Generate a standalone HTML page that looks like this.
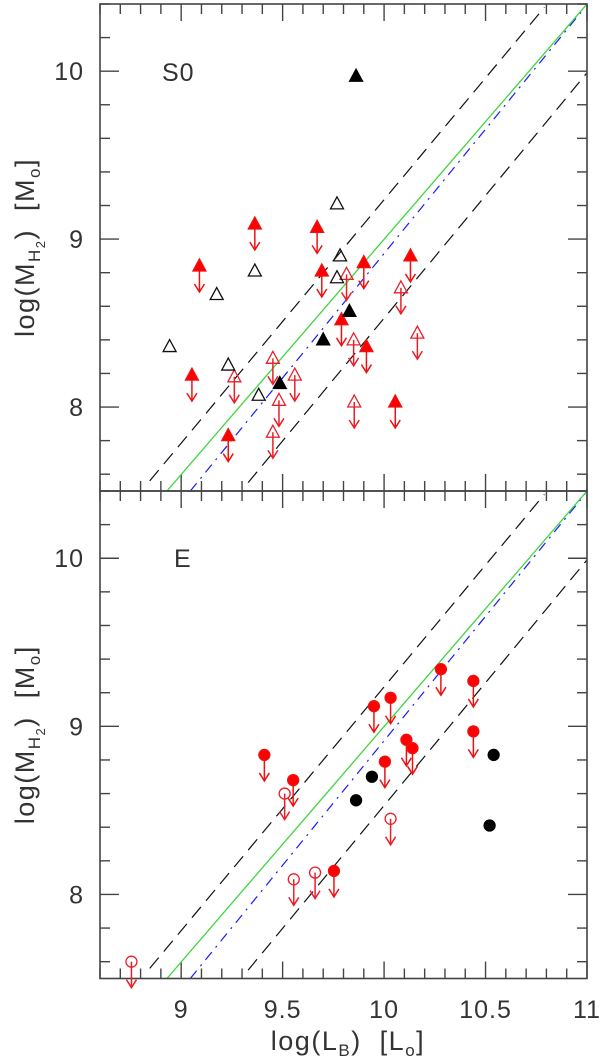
<!DOCTYPE html>
<html><head><meta charset="utf-8"><style>
html,body{margin:0;padding:0;background:#fff;}
svg{display:block;font-family:"Liberation Sans",sans-serif;}
</style></head><body>
<svg id="chart" width="600" height="1059" viewBox="0 0 600 1059" xmlns="http://www.w3.org/2000/svg"></svg>
<script>
// ---- data ----
const xTicks = [9, 9.5, 10, 10.5, 11];
const xTickLabels = ["9", "9.5", "10", "10.5", "11"];
const yTicks = [8, 9, 10];
const yTickLabels = ["8", "9", "10"];
// lines [x1,y1,x2,y2] in data coords
const greenLine = [8.93, 7.5, 11, 10.40];
const upperDashed = [8.845, 7.56, 10.79, 10.38];
const lowerDashed = [9.33, 7.55, 11, 9.99];
const blueDashDot = [9.045, 7.5, 10.99, 10.38];
// S0 panel
const s0OpenX = [8.943, 9.175, 9.363, 9.232, 9.382, 9.768, 9.783, 9.768];
const s0OpenY = [8.36, 8.67, 8.81, 8.25, 8.07, 9.21, 8.90, 8.77];
const s0FilledX = [9.862, 9.829, 9.70, 9.486];
const s0FilledY = [9.97, 8.57, 8.40, 8.14];
const s0RedFilledX = [9.09, 9.053, 9.232, 9.363, 9.67, 9.693, 9.79, 9.90, 9.913, 10.13, 10.055];
const s0RedFilledY = [8.84, 8.19, 7.83, 9.09, 9.07, 8.81, 8.52, 8.86, 8.36, 8.90, 8.03];
const s0RedOpenX = [9.452, 9.262, 9.56, 9.482, 9.452, 9.815, 9.85, 9.853, 10.083, 10.164];
const s0RedOpenY = [8.29, 8.18, 8.19, 8.04, 7.85, 8.79, 8.40, 8.03, 8.71, 8.44];
// E panel
const eRedFilledX = [9.41, 9.552, 9.95, 10.032, 10.004, 10.11, 10.14, 10.28, 10.44, 10.44, 9.753];
const eRedFilledY = [8.83, 8.68, 9.12, 9.17, 8.79, 8.92, 8.87, 9.34, 9.27, 8.97, 8.14];
const eRedOpenX = [9.51, 9.555, 9.66, 10.032, 8.755];
const eRedOpenY = [8.60, 8.09, 8.13, 8.45, 7.60];
const eBlackX = [9.862, 9.94, 10.54, 10.52];
const eBlackY = [8.56, 8.70, 8.83, 8.41];

// ---- layout ----
const NS = "http://www.w3.org/2000/svg";
const svg = document.getElementById('chart');
const L = 100, R = 587, XMIN = 8.6, XMAX = 11, YMIN = 7.5, YMAX = 10.4;
const panels = [{top: 4, bottom: 491, name: 's0'}, {top: 491, bottom: 978.5, name: 'e'}];
function sx(v){ return L + (v - XMIN) / (XMAX - XMIN) * (R - L); }
function mk(tag, attrs, parent){ const e = document.createElementNS(NS, tag); for (const k in attrs) e.setAttribute(k, attrs[k]); (parent||svg).appendChild(e); return e; }

function drawPanel(p, idx){
  const g = mk('g', {});
  
  
  const sy = v => p.bottom - (v - YMIN) / (YMAX - YMIN) * (p.bottom - p.top);
  p.sy = sy;
  const cp = mk('clipPath', {id: 'clip' + idx}, g);
  mk('rect', {x: L, y: p.top, width: R - L, height: p.bottom - p.top}, cp);
  const tk = mk('g', {stroke: '#444', 'stroke-width': 1.4}, g);
  
  
  for (let i = 86; i <= 110; i++) {
    const v = i / 10, x = sx(v), major = (i % 5 === 0), len = major ? 17 : 10;
    mk('line', {x1: x, y1: p.bottom, x2: x, y2: p.bottom - len}, tk);
    mk('line', {x1: x, y1: p.top, x2: x, y2: p.top + len}, tk);
  }
  for (let i = 38; i <= 52; i++) {
    const v = i / 5, y = sy(v), major = (i % 5 === 0), len = major ? 19 : 10;
    mk('line', {x1: L, y1: y, x2: L + len, y2: y}, tk);
    mk('line', {x1: R, y1: y, x2: R - len, y2: y}, tk);
  }
  const lg = mk('g', {'clip-path': 'url(#clip' + idx + ')', fill: 'none'}, g);
  function ln(a, style, name){
    const e = mk('line', Object.assign({x1: sx(a[0]), y1: sy(a[1]), x2: sx(a[2]), y2: sy(a[3])}, style), lg);
    
    
  }
  ln(upperDashed, {stroke: '#111', 'stroke-width': 1.2, 'stroke-dasharray': '14 8'}, 'upper-dashed-line');
  ln(lowerDashed, {stroke: '#111', 'stroke-width': 1.2, 'stroke-dasharray': '14 8'}, 'lower-dashed-line');
  ln(blueDashDot, {stroke: '#1a1aff', 'stroke-width': 1.2, 'stroke-dasharray': '10 6 2 6'}, 'blue-dash-dot-line');
  ln(greenLine, {stroke: '#3ed63e', 'stroke-width': 1.3}, 'green-fit-line');
  const fr = mk('rect', {x: L, y: p.top, width: R - L, height: p.bottom - p.top, fill: 'none', stroke: '#444', 'stroke-width': 1.6}, g);
  
  
  for (let i = 0; i < yTicks.length; i++) {
    const t = mk('text', {x: 84, y: sy(yTicks[i]) + 9, 'text-anchor': 'end', 'font-size': 25, fill: '#333', 'letter-spacing': 1}, g);
    t.textContent = yTickLabels[i];
    
    
  }
  const yt = mk('text', {transform: 'translate(34,' + ((p.top + p.bottom) / 2) + ') rotate(-90)', 'text-anchor': 'middle', 'font-size': 27, fill: '#333', 'letter-spacing': 1.5}, g);
  
  
  yt.innerHTML = 'log(M<tspan font-size="17" dy="6">H</tspan><tspan font-size="13" dy="5">2</tspan><tspan dy="-11">)\u00a0\u00a0[M</tspan><tspan font-size="17" dy="6">o</tspan><tspan dy="-6">]</tspan>';
  return g;
}

function arrow(g, x, y, color){
  const a = mk('g', {stroke: color, 'stroke-width': 1.5, fill: 'none'}, g);
  mk('line', {x1: x, y1: y, x2: x, y2: y + 26}, a);
  mk('polyline', {points: (x - 5) + ',' + (y + 18) + ' ' + x + ',' + (y + 26) + ' ' + (x + 5) + ',' + (y + 18)}, a);
}
function tri(g, x, y, fill, stroke){
  mk('polygon', {points: x + ',' + (y - 7) + ' ' + (x - 6.5) + ',' + (y + 5) + ' ' + (x + 6.5) + ',' + (y + 5), fill: fill, stroke: stroke, 'stroke-width': 1.3}, g);
}
function circ(g, x, y, fill, stroke){
  mk('circle', {cx: x, cy: y, r: 5.5, fill: fill, stroke: stroke, 'stroke-width': 1.3}, g);
}
function series(p, xs, ys, shape, fill, stroke, hasArrow, name){
  const g = mk('g', {});
  
  
  for (let i = 0; i < xs.length; i++) {
    const x = sx(xs[i]), y = p.sy(ys[i]);
    if (hasArrow) arrow(g, x, y, stroke);
    if (shape === 'tri') tri(g, x, y, fill, stroke); else circ(g, x, y, fill, stroke);
  }
}

drawPanel(panels[0], 0);
drawPanel(panels[1], 1);
const P0 = panels[0], P1 = panels[1];
series(P0, s0RedOpenX, s0RedOpenY, 'tri', 'none', '#e8202a', true, 's0-red-open-upper-limits');
series(P0, s0RedFilledX, s0RedFilledY, 'tri', '#ff0000', '#ee1111', true, 's0-red-filled-upper-limits');
series(P0, s0OpenX, s0OpenY, 'tri', 'none', '#111', false, 's0-open-triangles');
series(P0, s0FilledX, s0FilledY, 'tri', '#000', '#000', false, 's0-filled-triangles');
series(P1, eRedOpenX, eRedOpenY, 'circ', 'none', '#e8202a', true, 'e-red-open-upper-limits');
series(P1, eRedFilledX, eRedFilledY, 'circ', '#ff0000', '#ee1111', true, 'e-red-filled-upper-limits');
series(P1, eBlackX, eBlackY, 'circ', '#000', '#000', false, 'e-black-circles');

const l1 = mk('text', {x: 162, y: 81, 'font-size': 25, fill: '#333', 'letter-spacing': 1}); l1.textContent = 'S0';


const l2 = mk('text', {x: 174, y: 567, 'font-size': 25, fill: '#333'}); l2.textContent = 'E';


for (let i = 0; i < xTicks.length; i++) {
  const t = mk('text', {x: sx(xTicks[i]), y: 1018, 'text-anchor': 'middle', 'font-size': 25, fill: '#333', 'letter-spacing': 1}, svg);
  t.textContent = xTickLabels[i];
  
  
}
const xt = mk('text', {x: 348, y: 1050, 'text-anchor': 'middle', 'font-size': 27, fill: '#333', 'letter-spacing': 1.5});


xt.innerHTML = 'log(L<tspan font-size="17" dy="6">B</tspan><tspan dy="-6">)\u00a0\u00a0[L</tspan><tspan font-size="17" dy="6">o</tspan><tspan dy="-6">]</tspan>';
</script>
</body></html>
